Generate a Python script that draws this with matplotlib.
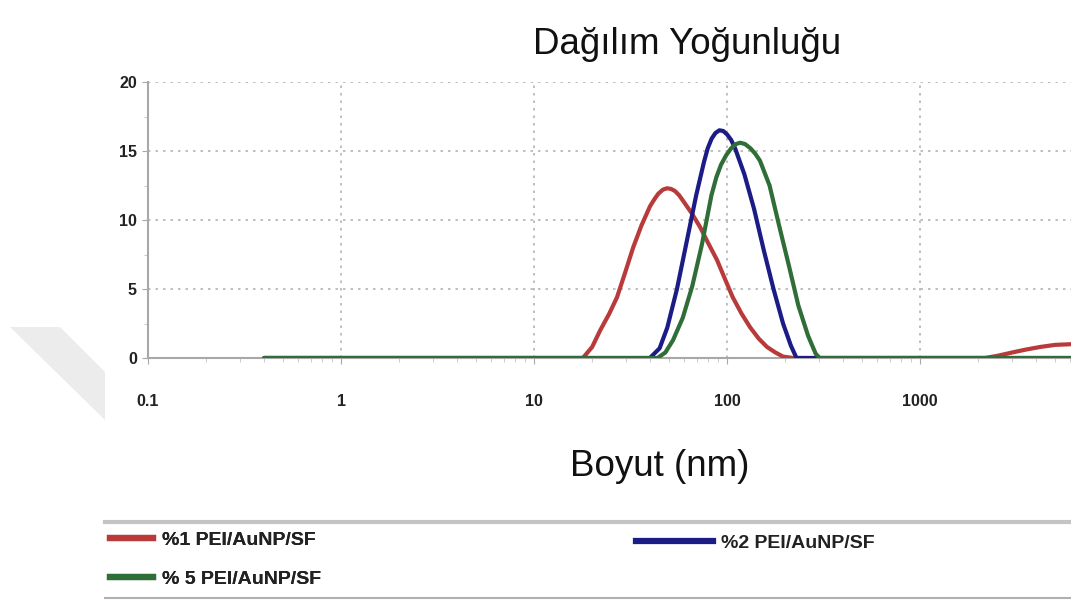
import matplotlib.pyplot as plt
from matplotlib.lines import Line2D
from matplotlib.patches import Polygon
from matplotlib.ticker import FixedLocator, NullFormatter, LogLocator

plt.rcParams['font.family'] = ['Liberation Sans', 'DejaVu Sans']

# size distribution by intensity, size in nm
size_1 = [0.4, 17.9, 20, 22, 24.5, 26.9, 29.5, 32.6, 36, 39.9, 42, 44, 46.5,
          48.9, 51.3, 53.7, 56.4, 59.1, 65.5, 72.4, 80, 88.7, 97, 107, 119,
          132, 146, 161, 178, 195, 220, 2170, 2500, 3000, 3500, 4190, 5000,
          6060]
val_1 = [0, 0, 0.8, 2.0, 3.2, 4.4, 6.1, 8.0, 9.6, 11.0, 11.5, 11.9, 12.2,
         12.3, 12.25, 12.1, 11.8, 11.4, 10.5, 9.5, 8.3, 7.1, 5.8, 4.4, 3.2,
         2.2, 1.4, 0.8, 0.4, 0.1, 0, 0, 0.15, 0.4, 0.6, 0.8, 0.95, 1.0]

size_2 = [0.4, 39.8, 44.7, 49, 55, 61.7, 69.2, 75.9, 79.4, 83.2, 87, 91.2,
          95.5, 100, 105, 110, 123, 138, 155, 174, 195, 214, 229, 6060]
val_2 = [0, 0, 0.7, 2.2, 5.0, 8.4, 11.8, 14.2, 15.2, 15.9, 16.3, 16.5,
         16.45, 16.2, 15.8, 15.2, 13.3, 10.8, 7.8, 5.0, 2.5, 0.9, 0, 0]

size_5 = [0.4, 43.6, 47.9, 52.5, 58.9, 66, 74, 83, 88, 93, 99, 105, 111, 117,
          124, 132, 140, 148, 166, 186, 209, 234, 263, 288, 302, 6060]
val_5 = [0, 0, 0.4, 1.3, 2.9, 5.2, 8.2, 11.8, 13.1, 14.0, 14.7, 15.2, 15.5,
         15.6, 15.5, 15.2, 14.8, 14.3, 12.5, 9.6, 6.7, 3.8, 1.6, 0.3, 0, 0]

labels = ['%1 PEI/AuNP/SF', '%2 PEI/AuNP/SF', '% 5 PEI/AuNP/SF']
colors = ['#b83a3a', '#1c1c86', '#2f6e36']

x_ticks = [0.1, 1, 10, 100, 1000]
x_ticklabels = ['0.1', '1', '10', '100', '1000']
y_ticks = [0, 5, 10, 15, 20]

W, H = 1071, 602
fig = plt.figure(figsize=(W / 100, H / 100), dpi=100)

# faint grey wedge in the left margin
fig.patches.append(Polygon([(10 / W, 1 - 327 / H), (60 / W, 1 - 327 / H),
                            (105 / W, 1 - 372 / H), (105 / W, 1 - 420 / H)],
                           closed=True, transform=fig.transFigure,
                           facecolor='#ececec', edgecolor='none', zorder=0))

ax = fig.add_axes([148 / W, 1 - 358 / H, (W - 148) / W, (358 - 82) / H])
ax.set_xscale('log')

ax.plot(size_1, val_1, color=colors[0], lw=3, solid_capstyle='round',
        solid_joinstyle='round', zorder=3)
ax.plot(size_2, val_2, color=colors[1], lw=3, solid_capstyle='round',
        solid_joinstyle='round', zorder=4)
ax.plot(size_5, val_5, color=colors[2], lw=3, solid_capstyle='round',
        solid_joinstyle='round', zorder=5)

ax.set_xlim(0.1, 6050)
ax.set_ylim(0, 20)

ax.xaxis.set_major_locator(FixedLocator(x_ticks))
ax.set_xticklabels(x_ticklabels)
ax.xaxis.set_minor_locator(LogLocator(base=10, subs=range(2, 10)))
ax.xaxis.set_minor_formatter(NullFormatter())
ax.set_yticks(y_ticks)
ax.yaxis.set_minor_locator(FixedLocator([2.5, 7.5, 12.5, 17.5]))

for s in ['top', 'right']:
    ax.spines[s].set_visible(False)
for s in ['left', 'bottom']:
    ax.spines[s].set_color('#a8a8a8')
    ax.spines[s].set_linewidth(1.5)

ax.tick_params(axis='both', which='major', length=4, color='#a8a8a8',
               labelsize=11.5, labelcolor='#222222')
ax.tick_params(axis='both', which='minor', length=3, color='#c0c0c0')
ax.tick_params(axis='x', pad=22)
ax.tick_params(axis='y', pad=4)
for lab in ax.get_xticklabels() + ax.get_yticklabels():
    lab.set_fontweight('bold')

ax.grid(True, which='major', linestyle=(0, (1.5, 3)), color='#b4b4b4', lw=1.2)

fig.text(687 / W, 1 - 45 / H, 'Dağılım Yoğunluğu', ha='center', va='center',
         fontsize=26.5, color='#111111')
fig.text(660 / W, 1 - 466 / H, 'Boyut (nm)', ha='center', va='center',
         fontsize=26.5, color='#111111')

# separators around the legend block
fig.add_artist(Line2D([105 / W, 1], [1 - 522 / H] * 2, transform=fig.transFigure,
                      color='#c4c4c4', lw=3))
fig.add_artist(Line2D([105 / W, 1], [1 - 598 / H] * 2, transform=fig.transFigure,
                      color='#b0b0b0', lw=1.5))

h1 = Line2D([], [], color=colors[0], lw=4.5)
h2 = Line2D([], [], color=colors[1], lw=4.5)
h5 = Line2D([], [], color=colors[2], lw=4.5)

leg_font = {'size': 14, 'weight': 'bold'}
leg_a = fig.legend([h1, h5], [labels[0], labels[2]], loc='upper left',
                   bbox_to_anchor=(96 / W, 1 - 518 / H), frameon=False,
                   prop=leg_font, handlelength=2.25, handletextpad=0.45,
                   labelspacing=1.1, borderpad=0.2)
leg_b = fig.legend([h2], [labels[1]], loc='upper left',
                   bbox_to_anchor=(622 / W, 1 - 521 / H), frameon=False,
                   prop=leg_font, handlelength=4.0, handletextpad=0.4,
                   borderpad=0.2)
for leg in (leg_a, leg_b):
    for t in leg.get_texts():
        t.set_color('#222222')
fig.add_artist(leg_a)

fig.savefig('out.png', dpi=100, facecolor='white')
